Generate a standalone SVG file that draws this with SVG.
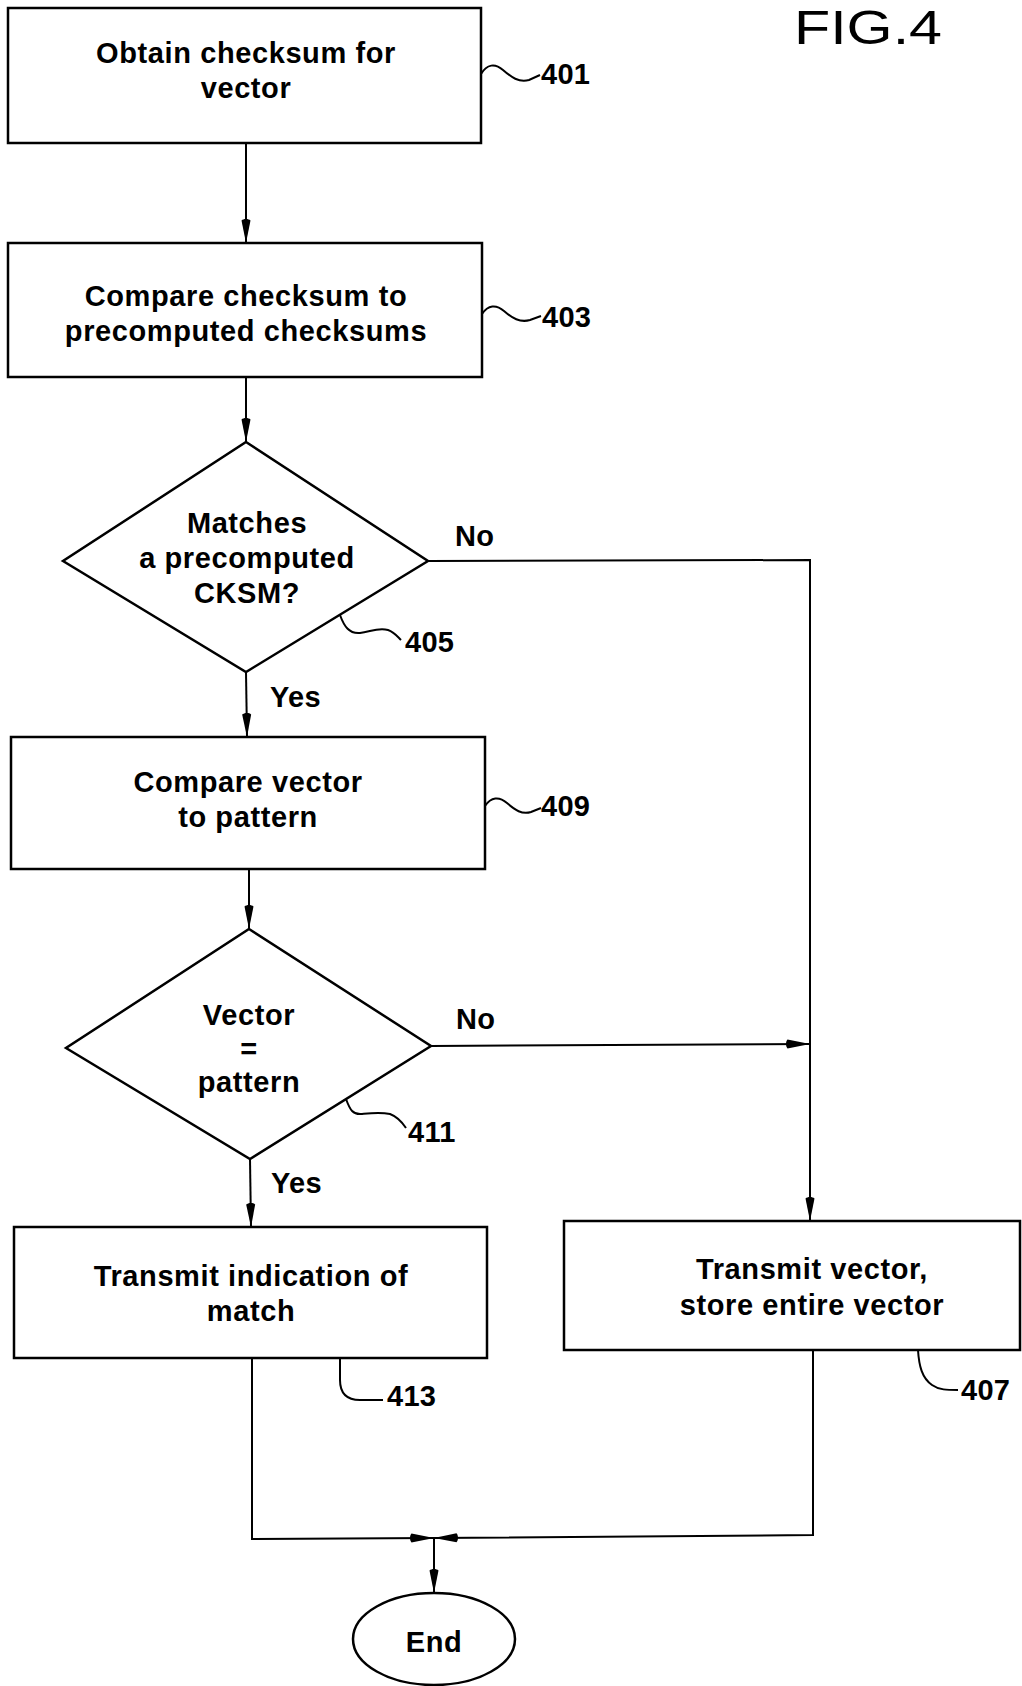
<svg xmlns="http://www.w3.org/2000/svg" width="1022" height="1686" viewBox="0 0 1022 1686">
<defs>
<style>
.box{fill:#fff;stroke:#000;stroke-width:2.5}
.ln{fill:none;stroke:#000;stroke-width:2}
.sq{fill:none;stroke:#000;stroke-width:2}
.t{font-family:"Liberation Sans",Arial,sans-serif;font-weight:bold;font-size:29px;letter-spacing:0.6px;text-anchor:middle;fill:#000}
.n{font-family:"Liberation Sans",Arial,sans-serif;font-weight:bold;font-size:29px;letter-spacing:0.3px;text-anchor:start;fill:#000}
.fig{font-family:"Liberation Sans",Arial,sans-serif;font-size:48px;fill:#000}
</style>
<marker id="ah" markerUnits="userSpaceOnUse" markerWidth="26" markerHeight="12" refX="24" refY="6" orient="auto" viewBox="0 0 26 12" overflow="visible">
<path d="M1.5,1.5 C-0.5,3.5 -0.5,8.5 1.5,10.5 L24,6 Z" fill="#000"/>
</marker>
</defs>
<rect width="1022" height="1686" fill="#fff"/>
<text class="fig" x="794" y="44" textLength="148" lengthAdjust="spacingAndGlyphs">FIG.4</text>

<g id="connectors">
<line class="ln" x1="246" y1="143" x2="246" y2="243" marker-end="url(#ah)"/>
<line class="ln" x1="246" y1="377" x2="246" y2="442" marker-end="url(#ah)"/>
<polyline class="ln" points="428,561 810,560 810,1221" marker-end="url(#ah)"/>
<line class="ln" x1="246" y1="672" x2="247" y2="737" marker-end="url(#ah)"/>
<line class="ln" x1="249" y1="869" x2="249" y2="929" marker-end="url(#ah)"/>
<line class="ln" x1="431" y1="1046" x2="810" y2="1044" marker-end="url(#ah)"/>
<line class="ln" x1="250" y1="1159" x2="251" y2="1227" marker-end="url(#ah)"/>
<polyline class="ln" points="252,1358 252,1539 434,1538" marker-end="url(#ah)"/>
<polyline class="ln" points="813,1350 813,1535 434,1538" marker-end="url(#ah)"/>
<line class="ln" x1="434" y1="1538" x2="434" y2="1593" marker-end="url(#ah)"/>
<text class="n" x="455" y="546">No</text>
<text class="n" x="270" y="707">Yes</text>
<text class="n" x="456" y="1029">No</text>
<text class="n" x="271" y="1193">Yes</text>
</g>

<g id="n401">
<rect class="box" x="8" y="8" width="473" height="135"/>
<text class="t" x="246" y="63">Obtain checksum for</text>
<text class="t" x="246" y="98">vector</text>
<path class="sq" d="M481,74 C487,64 495,63 503,70 C511,77 519,83 529,80 L540,75"/>
<text class="n" x="541" y="84">401</text>
</g>

<g id="n403">
<rect class="box" x="8" y="243" width="474" height="134"/>
<text class="t" x="246" y="306">Compare checksum to</text>
<text class="t" x="246" y="341">precomputed checksums</text>
<path class="sq" d="M482,314 C488,305 496,304 504,311 C512,318 520,323 530,320 L541,316"/>
<text class="n" x="542" y="327">403</text>
</g>

<g id="n405">
<polygon class="box" points="246,442 428,561 246,672 63,561"/>
<text class="t" x="247" y="533">Matches</text>
<text class="t" x="247" y="568">a precomputed</text>
<text class="t" x="247" y="603">CKSM?</text>
<path class="sq" d="M340,615 C344,626 349,634 360,633 C370,632 378,627 388,630 C394,632 397,636 401,640"/>
<text class="n" x="405" y="652">405</text>
</g>

<g id="n409">
<rect class="box" x="11" y="737" width="474" height="132"/>
<text class="t" x="248" y="792">Compare vector</text>
<text class="t" x="248" y="827">to pattern</text>
<path class="sq" d="M485,806 C491,797 499,796 507,803 C515,810 522,815 531,812 L541,808"/>
<text class="n" x="541" y="816">409</text>
</g>

<g id="n411">
<polygon class="box" points="249,929 431,1046 250,1159 66,1048"/>
<text class="t" x="249" y="1025">Vector</text>
<text class="t" x="249" y="1059">=</text>
<text class="t" x="249" y="1092">pattern</text>
<path class="sq" d="M346,1099 C350,1110 353,1115 362,1114 C372,1113 380,1112 390,1114 C398,1117 402,1122 406,1128"/>
<text class="n" x="408" y="1142">411</text>
</g>

<g id="n413">
<rect class="box" x="14" y="1227" width="473" height="131"/>
<text class="t" x="251" y="1286">Transmit indication of</text>
<text class="t" x="251" y="1321">match</text>
<path class="sq" d="M340,1358 L340,1380 C340,1393 347,1400 360,1400 L383,1400"/>
<text class="n" x="387" y="1406">413</text>
</g>

<g id="n407">
<rect class="box" x="564" y="1221" width="456" height="129"/>
<text class="t" x="812" y="1279">Transmit vector,</text>
<text class="t" x="812" y="1315">store entire vector</text>
<path class="sq" d="M918,1350 C919,1366 922,1378 932,1385 C939,1390 947,1390 958,1390"/>
<text class="n" x="961" y="1400">407</text>
</g>

<g id="end">
<ellipse class="box" cx="434" cy="1639" rx="81" ry="46"/>
<text class="t" x="434" y="1652">End</text>
</g>
</svg>
